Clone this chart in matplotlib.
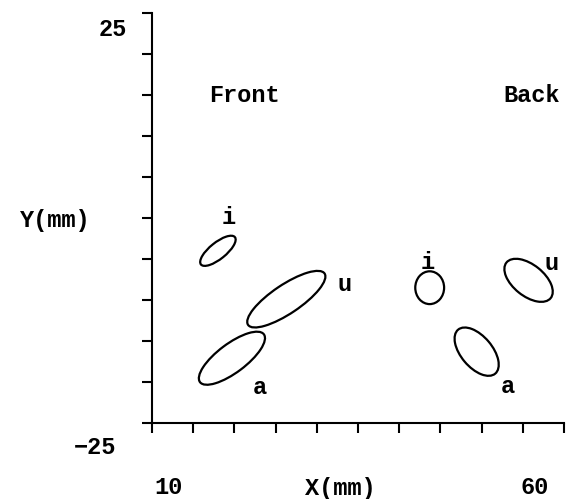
import matplotlib
matplotlib.use("Agg")
import matplotlib.pyplot as plt
from matplotlib.patches import Ellipse

# Ellipse data (mm): vowel, centre x, centre y, width, height, angle
labels = ["i", "u", "a", "i", "u", "a"]
cx = [18.0, 26.3, 19.7, 43.7, 55.7, 49.4]
cy = [-4.0, -9.9, -17.1, -8.5, -7.6, -16.3]
widths = [5.3, 11.2, 9.7, 3.5, 6.9, 7.0]
heights = [2.0, 3.5, 3.5, 4.0, 3.8, 3.8]
angles = [39, 34, 37, 0, -39, -50]
# label positions
lx = [19.3, 33.4, 23.1, 43.4, 58.5, 53.2]
ly = [0.0, -8.1, -20.7, -5.4, -5.5, -20.6]

region_names = ["Front", "Back"]
region_x = [21.2, 52.6]
region_y = [14.9, 14.9]

xticks = list(range(10, 61, 5))
yticks = list(range(-25, 26, 5))

W, H = 585, 499
fig = plt.figure(figsize=(W / 100, H / 100), dpi=100)
ax = fig.add_axes([152 / W, 1 - 423 / H, (564 - 152) / W, (423 - 13) / H])
ax.set_xlim(10, 60)
ax.set_ylim(-25, 25)

font = dict(family=["Liberation Mono", "DejaVu Sans Mono"], fontweight="bold", color="black")
fs = 17

for i in range(len(labels)):
    e = Ellipse((cx[i], cy[i]), widths[i], heights[i], angle=angles[i],
                fill=False, edgecolor="black", linewidth=1.6)
    ax.add_patch(e)
    ax.text(lx[i], ly[i], labels[i], ha="center", va="center", fontsize=fs, **font)

for name, x, y in zip(region_names, region_x, region_y):
    ax.text(x, y, name, ha="center" if name == "Front" else "left", va="center",
            fontsize=fs, clip_on=False, **font)

ax.set_xticks(xticks)
ax.set_yticks(yticks)
ax.set_xticklabels([])
ax.set_yticklabels([])
ax.tick_params(direction="out", length=7.5, width=1.5, color="black")
for s in ["top", "right"]:
    ax.spines[s].set_visible(False)
for s in ["left", "bottom"]:
    ax.spines[s].set_linewidth(1.5)

def ftext(px, py, s):
    fig.text(px / W, 1 - py / H, s, ha="center", va="center", fontsize=fs, **font)

ftext(113, 30, "25")
ftext(95, 447, "−25")
ftext(168, 488, "10")
ftext(340, 488, "X(mm)")
ftext(535, 488, "60")
ftext(55, 220, "Y(mm)")

fig.savefig("out.png", dpi=100)
